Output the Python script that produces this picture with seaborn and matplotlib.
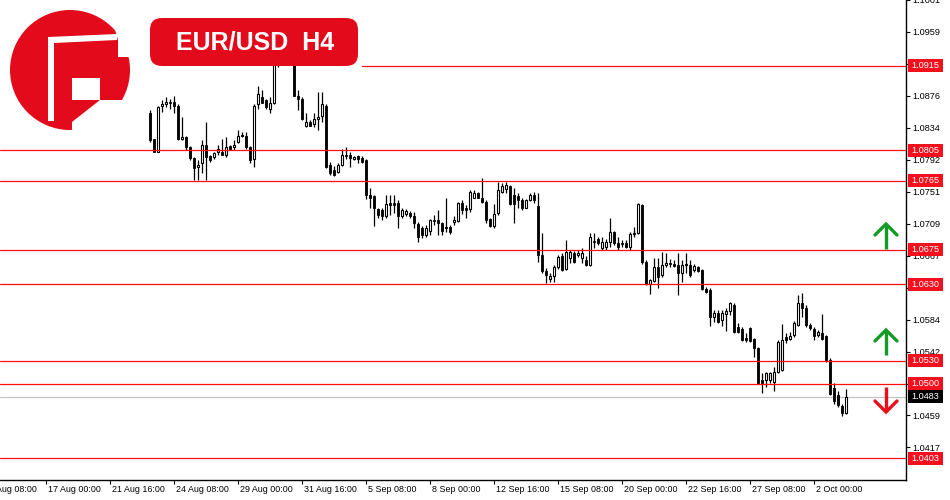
import matplotlib
matplotlib.use("Agg")
import matplotlib.pyplot as plt
import numpy as np
import pandas as pd
import seaborn as sns
from matplotlib.patches import Rectangle, FancyBboxPatch, Circle, Polygon

# ---------------- data (EUR/USD H4) ----------------
opens = [1.0854,1.0819,1.0803,1.0862,1.0865,1.0868,1.0868,1.0862,1.0820,1.0822,
 1.0809,1.0794,1.0783,1.0788,1.0811,1.0797,1.0796,1.0802,1.0803,1.0799,
 1.0810,1.0809,1.0815,1.0824,1.0824,1.0809,1.0793,1.0865,1.0874,1.0870,
 1.0859,1.0866,1.0922,1.0932,1.0937,1.0927,1.0924,1.0876,1.0871,1.0837,
 1.0841,1.0839,1.0846,1.0849,1.0863,1.0785,1.0779,1.0777,1.0786,1.0798,
 1.0798,1.0793,1.0797,1.0794,1.0792,1.0747,1.0745,1.0728,1.0727,1.0719,
 1.0736,1.0736,1.0736,1.0719,1.0721,1.0723,1.0719,1.0708,1.0703,1.0694,
 1.0700,1.0714,1.0714,1.0710,1.0703,1.0704,1.0711,1.0712,1.0736,1.0730,
 1.0728,1.0743,1.0749,1.0743,1.0737,1.0715,1.0706,1.0723,1.0750,1.0754,
 1.0758,1.0746,1.0745,1.0740,1.0730,1.0740,1.0746,1.0732,1.0668,1.0647,
 1.0637,1.0641,1.0652,1.0667,1.0650,1.0664,1.0671,1.0668,1.0664,1.0661,
 1.0655,1.0686,1.0689,1.0677,1.0678,1.0685,1.0698,1.0684,1.0684,1.0684,
 1.0678,1.0695,1.0697,1.0733,1.0659,1.0630,1.0634,1.0652,1.0642,1.0655,
 1.0658,1.0656,1.0655,1.0645,1.0655,1.0655,1.0648,1.0652,1.0648,1.0624,
 1.0622,1.0587,1.0592,1.0583,1.0591,1.0595,1.0603,1.0574,1.0572,1.0560,
 1.0573,1.0559,1.0547,1.0505,1.0505,1.0505,1.0503,1.0516,1.0518,1.0561,
 1.0559,1.0564,1.0577,1.0605,1.0599,1.0577,1.0572,1.0564,1.0566,1.0562,
 1.0531,1.0495,1.0486,1.0471,1.0462]
highs = [1.0857,1.0820,1.0863,1.0870,1.0874,1.0871,1.0876,1.0865,1.0848,1.0823,
 1.0810,1.0796,1.0792,1.0818,1.0841,1.0799,1.0803,1.0811,1.0820,1.0822,
 1.0811,1.0818,1.0831,1.0828,1.0829,1.0810,1.0865,1.0889,1.0884,1.0872,
 1.0874,1.0928,1.0935,1.0945,1.0943,1.0935,1.0928,1.0884,1.0874,1.0853,
 1.0844,1.0853,1.0881,1.0881,1.0865,1.0789,1.0784,1.0788,1.0806,1.0809,
 1.0802,1.0797,1.0798,1.0797,1.0793,1.0756,1.0746,1.0730,1.0729,1.0746,
 1.0747,1.0746,1.0740,1.0729,1.0728,1.0725,1.0724,1.0711,1.0706,1.0707,
 1.0715,1.0720,1.0727,1.0711,1.0743,1.0707,1.0719,1.0737,1.0740,1.0733,
 1.0753,1.0753,1.0750,1.0768,1.0740,1.0716,1.0734,1.0763,1.0762,1.0763,
 1.0759,1.0756,1.0749,1.0742,1.0741,1.0749,1.0750,1.0749,1.0697,1.0651,
 1.0645,1.0655,1.0668,1.0671,1.0687,1.0674,1.0673,1.0674,1.0677,1.0667,
 1.0697,1.0697,1.0691,1.0691,1.0689,1.0717,1.0700,1.0691,1.0687,1.0687,
 1.0698,1.0704,1.0736,1.0734,1.0661,1.0637,1.0664,1.0664,1.0672,1.0671,
 1.0663,1.0661,1.0671,1.0661,1.0671,1.0661,1.0656,1.0654,1.0650,1.0626,
 1.0625,1.0596,1.0596,1.0596,1.0599,1.0607,1.0605,1.0579,1.0574,1.0566,
 1.0574,1.0560,1.0548,1.0514,1.0516,1.0516,1.0522,1.0557,1.0578,1.0566,
 1.0568,1.0582,1.0616,1.0618,1.0603,1.0579,1.0574,1.0570,1.0591,1.0564,
 1.0534,1.0501,1.0490,1.0474,1.0493]
lows = [1.0816,1.0802,1.0802,1.0855,1.0861,1.0859,1.0853,1.0818,1.0818,1.0805,
 1.0792,1.0766,1.0766,1.0775,1.0766,1.0789,1.0793,1.0798,1.0798,1.0796,
 1.0805,1.0805,1.0814,1.0822,1.0807,1.0788,1.0783,1.0859,1.0866,1.0859,
 1.0853,1.0865,1.0914,1.0924,1.0922,1.0917,1.0875,1.0857,1.0844,1.0835,
 1.0836,1.0835,1.0831,1.0841,1.0781,1.0772,1.0771,1.0775,1.0784,1.0793,
 1.0783,1.0792,1.0788,1.0788,1.0741,1.0729,1.0706,1.0717,1.0714,1.0716,
 1.0720,1.0723,1.0703,1.0717,1.0719,1.0717,1.0703,1.0685,1.0690,1.0691,
 1.0694,1.0707,1.0694,1.0694,1.0698,1.0695,1.0707,1.0711,1.0721,1.0716,
 1.0724,1.0742,1.0742,1.0736,1.0710,1.0704,1.0703,1.0720,1.0749,1.0749,
 1.0733,1.0710,1.0730,1.0727,1.0729,1.0738,1.0736,1.0659,1.0645,1.0631,
 1.0633,1.0633,1.0650,1.0647,1.0648,1.0658,1.0658,1.0665,1.0658,1.0654,
 1.0654,1.0677,1.0681,1.0674,1.0674,1.0678,1.0681,1.0674,1.0678,1.0677,
 1.0674,1.0691,1.0695,1.0656,1.0629,1.0617,1.0633,1.0625,1.0639,1.0652,
 1.0652,1.0652,1.0616,1.0633,1.0645,1.0639,1.0646,1.0646,1.0622,1.0618,
 1.0576,1.0581,1.0579,1.0576,1.0569,1.0590,1.0566,1.0566,1.0556,1.0555,
 1.0555,1.0535,1.0500,1.0488,1.0496,1.0501,1.0490,1.0514,1.0517,1.0553,
 1.0557,1.0561,1.0576,1.0587,1.0574,1.0570,1.0557,1.0561,1.0557,1.0529,
 1.0486,1.0474,1.0470,1.0458,1.0461]
closes = [1.0818,1.0803,1.0861,1.0865,1.0868,1.0867,1.0862,1.0820,1.0822,1.0809,
 1.0794,1.0781,1.0785,1.0812,1.0796,1.0792,1.0801,1.0806,1.0799,1.0809,
 1.0806,1.0812,1.0823,1.0824,1.0809,1.0792,1.0862,1.0878,1.0867,1.0861,
 1.0866,1.0922,1.0932,1.0937,1.0927,1.0924,1.0876,1.0871,1.0846,1.0842,
 1.0837,1.0846,1.0848,1.0865,1.0783,1.0775,1.0773,1.0786,1.0798,1.0797,
 1.0794,1.0796,1.0793,1.0790,1.0747,1.0743,1.0729,1.0720,1.0719,1.0734,
 1.0733,1.0733,1.0719,1.0727,1.0725,1.0719,1.0710,1.0691,1.0694,1.0703,
 1.0714,1.0713,1.0710,1.0700,1.0704,1.0698,1.0714,1.0736,1.0727,1.0727,
 1.0750,1.0749,1.0743,1.0737,1.0714,1.0706,1.0721,1.0753,1.0758,1.0760,
 1.0734,1.0734,1.0740,1.0729,1.0740,1.0746,1.0740,1.0668,1.0647,1.0642,
 1.0641,1.0652,1.0665,1.0648,1.0672,1.0672,1.0659,1.0671,1.0671,1.0655,
 1.0691,1.0685,1.0684,1.0685,1.0685,1.0698,1.0684,1.0678,1.0682,1.0678,
 1.0695,1.0697,1.0734,1.0659,1.0630,1.0635,1.0652,1.0639,1.0655,1.0658,
 1.0656,1.0654,1.0645,1.0655,1.0656,1.0642,1.0654,1.0647,1.0624,1.0620,
 1.0587,1.0592,1.0581,1.0592,1.0595,1.0605,1.0568,1.0568,1.0557,1.0557,
 1.0556,1.0547,1.0501,1.0501,1.0514,1.0514,1.0516,1.0555,1.0557,1.0557,
 1.0562,1.0579,1.0605,1.0599,1.0577,1.0573,1.0562,1.0568,1.0559,1.0531,
 1.0487,1.0477,1.0473,1.0462,1.0483]

level_values = [1.0915, 1.0805, 1.0765, 1.0675, 1.0630, 1.0530, 1.0500, 1.0403]
level_labels = ["1.0915", "1.0805", "1.0765", "1.0675", "1.0630", "1.0530", "1.0500", "1.0403"]
last_price = 1.0483
last_label = "1.0483"

ytick_values = [1.10008, 1.09591, 1.09174, 1.08757, 1.08340, 1.07923, 1.07506,
                1.07089, 1.06672, 1.06255, 1.05838, 1.05421, 1.05004, 1.04587, 1.04170]
ytick_labels = ["1.1001", "1.0959", "1.0917", "1.0876", "1.0834", "1.0792", "1.0751",
                "1.0709", "1.0667", "1.0626", "1.0584", "1.0542", "1.0500", "1.0459", "1.0417"]

xtick_labels = ["14 Aug 08:00", "17 Aug 00:00", "21 Aug 16:00", "24 Aug 08:00",
                "29 Aug 00:00", "31 Aug 16:00", "5 Sep 08:00", "8 Sep 00:00",
                "12 Sep 16:00", "15 Sep 08:00", "20 Sep 00:00", "22 Sep 16:00",
                "27 Sep 08:00", "2 Oct 00:00"]
xtick_bars = [-42, -26, -10, 6, 22, 38, 54, 70, 86, 102, 118, 134, 150, 166]

df = pd.DataFrame({"bar": np.arange(len(opens)), "open": opens, "high": highs,
                   "low": lows, "close": closes})

# ---------------- style ----------------
sns.set_theme(style="white")
plt.rcParams["font.family"] = ["Liberation Sans", "DejaVu Sans"]

W, H = 950, 500
fig = plt.figure(figsize=(W / 100, H / 100), dpi=100)
fig.patch.set_facecolor("white")
ax = fig.add_axes([0, 20 / H, 906 / W, 480 / H])
ax.set_facecolor("white")

RED = "#f4111d"
LINE_RED = "#ff1010"

# ---------------- candles ----------------
up = df["close"] >= df["open"]
lo_w = np.minimum(df["low"], np.minimum(df["open"], df["close"]))
hi_w = np.maximum(df["high"], np.maximum(df["open"], df["close"]))
ax.vlines(df["bar"], lo_w, hi_w, color="black", lw=0.9, zorder=2)
body_h = (df["close"] - df["open"]).abs().clip(lower=0.000025)
body_b = np.minimum(df["open"], df["close"])
ax.bar(df["bar"][~up], body_h[~up], bottom=body_b[~up], width=0.72,
       color="black", edgecolor="black", linewidth=0.6, zorder=3)
ax.bar(df["bar"][up], body_h[up], bottom=body_b[up], width=0.72,
       color="white", edgecolor="black", linewidth=0.8, zorder=3)

# ---------------- levels ----------------
for v in level_values:
    # the top level is hidden behind the title banner on the left
    xmin = 362 / 906 if v == max(level_values) else 0
    ax.axhline(v, xmin=xmin, color=LINE_RED, lw=0.9, zorder=4)
ax.axhline(last_price, color="#c4c4c4", lw=0.9, zorder=1.5)

ax.set_xlim(-37.5, 189)
ax.set_ylim(1.03745, 1.09994)

# axes frame
for s in ["left", "top"]:
    ax.spines[s].set_visible(False)
for s in ["right", "bottom"]:
    ax.spines[s].set_color("black")
    ax.spines[s].set_linewidth(1.0)

ax.yaxis.tick_right()
ax.set_yticks(ytick_values)
ax.set_yticklabels(ytick_labels)
ax.tick_params(axis="y", direction="out", length=3, width=0.8, pad=1.5,
               labelsize=6.6, colors="black", right=True, left=False)
ax.set_xticks([b for b in xtick_bars if b > -37.5])
ax.set_xticklabels([])
ax.tick_params(axis="x", direction="out", length=3, width=0.8, bottom=True, colors="black")
for b, lab in zip(xtick_bars, xtick_labels):
    ax.text(b + 0.5, -9 / 480, lab, transform=ax.get_xaxis_transform(), ha="left",
            va="center", fontsize=6.4, color="black", clip_on=False)
ax.grid(False)

# price boxes on the right scale
ytr = ax.get_yaxis_transform()
bx0 = 908 / 906
bw = 35 / 906
bh = 13 / 7681
for v, lab in zip(level_values, level_labels):
    ax.add_patch(Rectangle((bx0, v - bh / 2), bw, bh, transform=ytr, clip_on=False,
                           facecolor=RED, edgecolor="none", zorder=6))
    ax.text(bx0 + bw / 2, v, lab, transform=ytr, ha="center", va="center",
            fontsize=6.6, color="white", clip_on=False, zorder=7)
ax.add_patch(Rectangle((bx0, last_price - bh / 2), bw, bh, transform=ytr, clip_on=False,
                       facecolor="black", edgecolor="none", zorder=6))
ax.text(bx0 + bw / 2, last_price, last_label, transform=ytr, ha="center", va="center",
        fontsize=6.6, color="white", clip_on=False, zorder=7)

# ---------------- overlay: logo, title, arrows ----------------
ov = fig.add_axes([0, 0, 1, 1], zorder=5)
ov.set_xlim(0, W)
ov.set_ylim(H, 0)
ov.axis("off")
ov.patch.set_alpha(0)

LOGO_RED = "#e20a1b"
ov.add_patch(Rectangle((0, 0), 147, 149, facecolor="white", edgecolor="none"))
ov.add_patch(Circle((70, 70), 60, facecolor=LOGO_RED, edgecolor="none"))
# white cut-outs forming the "F"
ov.add_patch(Polygon([(114, 26), (140, 26), (140, 57), (118, 57), (118, 40)],
                     closed=True, facecolor="white", edgecolor="none"))
ov.add_patch(Polygon([(48, 37), (117, 34), (117, 40), (54, 43), (54, 121), (48, 121)],
                     closed=True, facecolor="white", edgecolor="none"))
ov.add_patch(Rectangle((72, 78), 28, 22, facecolor="white", edgecolor="none"))
ov.add_patch(Polygon([(100, 100), (140, 100), (140, 140), (72, 140), (72, 122)],
                     closed=True, facecolor="white", edgecolor="none"))

ov.add_patch(FancyBboxPatch((150, 18), 208, 48,
                            boxstyle="round,pad=0,rounding_size=12",
                            facecolor=LOGO_RED, edgecolor="none"))
ov.text(255, 43, "EUR/USD  H4", ha="center", va="center", color="white",
        fontsize=18, fontweight="bold", family=["Liberation Sans", "DejaVu Sans"])

GREEN = "#159a28"
def arrow(xc, y_tip, y_tail, color):
    d = 1 if y_tail > y_tip else -1
    ov.plot([xc, xc], [y_tip, y_tail], color=color, lw=2.4, solid_capstyle="butt")
    ov.plot([xc - 11, xc, xc + 11], [y_tip + d * 11, y_tip, y_tip + d * 11],
            color=color, lw=2.4, solid_joinstyle="miter")

arrow(886, 224, 249, GREEN)
arrow(886, 330, 355, GREEN)
arrow(886, 412, 387, "#e8101c")

fig.savefig("out.png", dpi=100, facecolor="white")
